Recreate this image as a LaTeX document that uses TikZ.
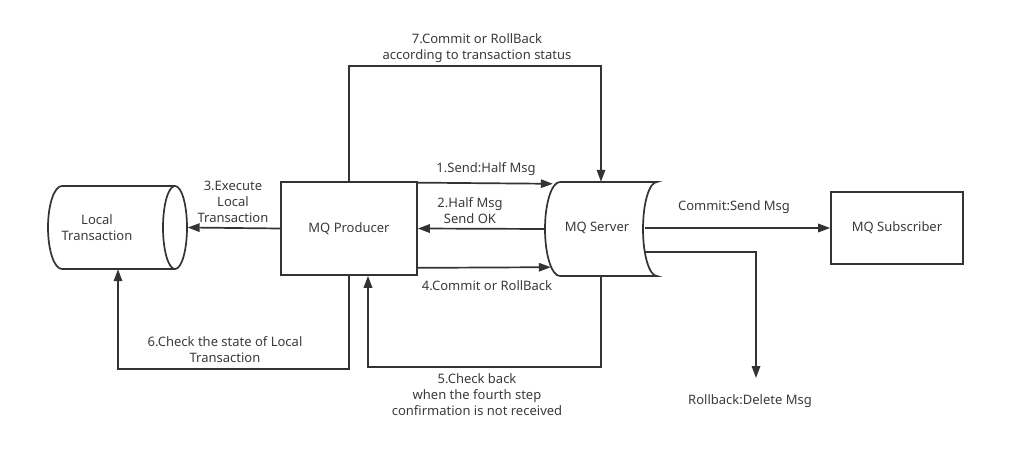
\documentclass[tikz,border=0pt]{standalone}
\usepackage{fontspec}
\setmainfont{Noto Sans}
\usetikzlibrary{arrows.meta,calc}
\definecolor{ink}{HTML}{333333}
\definecolor{txt}{HTML}{3A3A3A}
\begin{document}
\begin{tikzpicture}[x=1pt,y=1pt,
  line/.style={draw=ink,line width=1.7pt},
  arr/.style={line,-{Triangle[length=12pt,width=8.5pt]}},
  box/.style={line,minimum width=136pt,minimum height=93pt,inner sep=0pt},
  area/.style={inner sep=0pt},
  lbl/.style={text=txt,align=center,inner sep=0pt,font=\fontsize{13}{16}\selectfont}]
\useasboundingbox (0,0) rectangle (1030,-454);

% anchor areas of the two drum shapes
\node[area,minimum width=139pt,minimum height=83pt] (local) at (118,-227.5) {};
\node[area,minimum width=112pt,minimum height=94pt] (server) at (601,-229) {};

% Local Transaction drum (horizontal cylinder)
\draw[line] (175,-186) -- (62,-186)
  arc[start angle=90,end angle=270,x radius=14pt,y radius=41.5pt]
  -- (175,-269);
\draw[line] (175,-227.5) ellipse[x radius=12pt,y radius=41.5pt];
\node[lbl] (localtxt) at (97,-228) {Local\\Transaction};

% MQ Server shape (stored-data outline)
\draw[line] (560,-182) -- (657,-182)
  arc[start angle=90,end angle=270,x radius=14pt,y radius=47pt]
  -- (560,-276)
  arc[start angle=270,end angle=90,x radius=15pt,y radius=47pt] -- cycle;
\node[lbl] (servertxt) at (597,-228) {MQ Server};

% rectangular boxes
\node[box] (producer) at (349,-228.5) {};
\node[lbl] at (producer) {MQ Producer};
\node[box,minimum width=132pt,minimum height=72pt] (subscriber) at (897,-228) {};
\node[lbl] at (subscriber) {MQ Subscriber};

% free end of the rollback branch
\coordinate (deleted) at (756,-378);

% 1 / 2 / 4 between producer and server
\draw[arr] ($(producer.north east)+(0,-1.5)$) -- ($(server.north west)+(8,-2)$);
\draw[arr] (server.west) -- (producer.east);
\draw[arr] ($(producer.south east)+(0,8)$) -- ($(server.south west)+(6,9)$);

% 3: producer executes local transaction
\draw[arr] (producer.west) -- (local.east);

% 7: commit or rollback loop over the top
\draw[arr] (producer.north) -- ++(0,115) -| (server.north);

% 5: check back loop underneath
\draw[arr] (server.south) -- ++(0,-91) -| ($(producer.south)+(19,0)$);

% 6: check local transaction state
\draw[arr] (producer.south) -- ++(0,-93) -| (local.south);

% server to subscriber, and rollback branch
\draw[arr] ($(server.east)+(-12,1)$) -- (subscriber.west);
\draw[arr] ($(server.east)+(-12,-23)$) -| (deleted);

% labels
\node[lbl] at (477,-48) {7.Commit or RollBack\\according to transaction status};
\node[lbl] at (486,-169) {1.Send:Half Msg};
\node[lbl] at (470,-211) {2.Half Msg\\Send OK};
\node[lbl] at (487,-286) {4.Commit or RollBack};
\node[lbl] at (233,-202) {3.Execute\\Local\\Transaction};
\node[lbl] at (225,-350) {6.Check the state of Local\\Transaction};
\node[lbl] at (477,-395) {5.Check back\\when the fourth step\\confirmation is not received};
\node[lbl] at (734,-207) {Commit:Send Msg};
\node[lbl] at (750,-401) {Rollback:Delete Msg};
\end{tikzpicture}
\end{document}
